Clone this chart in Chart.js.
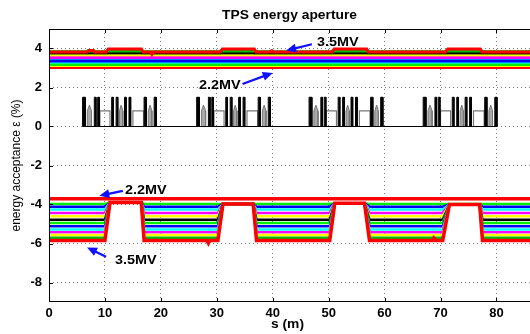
<!DOCTYPE html>
<html><head><meta charset="utf-8">
<script src="https://cdn.jsdelivr.net/npm/chart.js@4.4.0/dist/chart.umd.min.js"></script>
<style>html,body{margin:0;padding:0;background:#fff;overflow:hidden}#wrap{width:530px;height:334px;position:relative}</style>
</head><body><div id="wrap"><canvas id="c"></canvas></div>
<script>
// ---------- data ----------
const chartTitle = 'TPS energy aperture';
const xTitle = 's (m)';
const yTitle = 'energy acceptance \u03b5 (%)';
const xTicks = [0, 10, 20, 30, 40, 50, 60, 70, 80];
const yTicks = [-8, -6, -4, -2, 0, 2, 4];
const sRange = [0, 86];
const eRange = [-9, 5];

const voltages = ['2.2MV','2.3MV','2.4MV','2.5MV','2.6MV','2.7MV','2.8MV','2.9MV','3.0MV','3.1MV','3.2MV','3.3MV','3.4MV','3.5MV'];
const curveColors = ['#ff0000','#00ee00','#0000ff','#00ffff','#ff00ff','#ffff00','#000000','#00ee00','#0000ff','#00ffff','#ff00ff','#ffff00','#00bb00','#ff0000'];
// flat positive / negative acceptance of each curve (%)
const posAperture = [3.00, 3.16, 3.34, 3.28, 3.52, 3.64, 3.74, 3.20, 3.38, 3.46, 3.56, 3.10, 3.78, 3.82];
const negAperture = [-3.71, -3.97, -4.11, -4.26, -4.43, -4.60, -4.78, -4.95, -5.12, -5.28, -5.42, -5.56, -5.70, -5.84];

// regions where the acceptance changes: [rise start, rise end, fall start, fall end] (m)
const posRegions = [[6.8, 7.1, 7.9, 8.2], [10.2, 10.6, 16.5, 16.8], [30.6, 31.0, 36.7, 37.0], [50.6, 51.0, 56.8, 57.1], [70.9, 71.3, 77.1, 77.4]];
const posLevel35 = [3.90, 3.98, 3.98, 3.98, 3.98];   // 3.5MV curve inside regions
const posLevel34 = [3.84, 3.87, 3.87, 3.87, 3.87];   // 3.4MV curve inside regions
const negRegions = [[10.0, 10.9, 16.5, 17.0], [30.2, 31.1, 36.5, 37.1], [50.2, 51.1, 56.4, 57.3], [70.4, 71.6, 77.0, 77.5]];
const negLevel = [-3.90, -3.98, -3.93, -4.00];
// small spikes on the 3.5MV curves: [s, value]
const posSpikes35 = [[18.4, 3.70], [39.8, 3.88]];
const negSpikes35 = [[28.5, -5.98], [68.8, -5.72]];

// lattice (magnet layout), per cell, relative to the cell start (m)
const cellStarts = [6.0, 26.4, 46.5, 66.9];
const latticeExtent = [6.0, 80.1];
const quadRanges = [[0, 0.5], [2.1, 2.4], [2.7, 3.0], [5.2, 5.5], [6.0, 6.3], [7.5, 7.8], [8.3, 8.6], [11.0, 11.4], [12.8, 13.2]];
const quadHeight = 1.5;
const sextRanges = [[0.85, 1.6], [6.6, 7.2], [11.75, 12.4]];
const sextHeight = [0.8, 1.1];
const dipoleRanges = [[3.1, 4.9], [9.0, 10.9]];
const dipoleHeight = 0.8;

// annotations (data coordinates)
const notes = [
  { text: '3.5MV', at: [47.9, 4.3], from: [47.0, 4.22], to: [42.4, 3.9] },
  { text: '2.2MV', at: [26.8, 2.07], from: [34.6, 2.18], to: [40.0, 2.75] },
  { text: '2.2MV', at: [13.6, -3.27], from: [13.2, -3.3], to: [9.0, -3.55] },
  { text: '3.5MV', at: [11.8, -6.9], from: [10.2, -6.68], to: [6.8, -6.2] }
];

// ---------- build datasets ----------
function buildCurve(flat, regions, levels, spikes) {
  const ev = [];
  regions.forEach((r, k) => {
    if (!levels || levels[k] == null) return;
    const L = levels[k];
    ev.push({ x: r[0], y: flat }, { x: r[1], y: L }, { x: r[2], y: L }, { x: r[3], y: flat });
  });
  (spikes || []).forEach(sp => ev.push({ x: sp[0] - 0.25, y: flat }, { x: sp[0], y: sp[1] }, { x: sp[0] + 0.25, y: flat }));
  ev.sort((a, b) => a.x - b.x);
  return [{ x: sRange[0], y: flat }].concat(ev, [{ x: sRange[1], y: flat }]);
}

const datasets = [];
const last = voltages.length - 1;
voltages.forEach((v, i) => {
  const isEdge = (i === 0 || i === last);
  let pLevels = null, pSpikes = null;
  if (i === last) { pLevels = posLevel35; pSpikes = posSpikes35; }
  if (i === last - 1) { pLevels = posLevel34; }
  datasets.push({
    label: v + ' +', data: buildCurve(posAperture[i], posRegions, pLevels, pSpikes),
    borderColor: curveColors[i], borderWidth: i === last ? 3 : (i === last - 1 ? 5 : 2.2),
    pointRadius: 0, fill: false, tension: 0, order: isEdge ? 1 : 10 + i
  });
  const nLevels = i === 0 ? null : negLevel.map(L => Math.max(L, negAperture[i]));
  datasets.push({
    label: v + ' -', data: buildCurve(negAperture[i], negRegions, nLevels, i === last ? negSpikes35 : null),
    borderColor: curveColors[i], borderWidth: isEdge ? 3.5 : 2.5,
    pointRadius: 0, fill: false, tension: 0, order: isEdge ? 1 : 30 - i
  });
});

// lattice
function rectPts(ranges, h) {
  const pts = [];
  cellStarts.forEach(c => ranges.forEach(r => {
    pts.push({ x: c + r[0], y: 0 }, { x: c + r[0], y: h }, { x: c + r[1], y: h }, { x: c + r[1], y: 0 }, { x: NaN, y: null });
  }));
  return pts;
}
function sextPts() {
  const pts = [];
  cellStarts.forEach(c => sextRanges.forEach(r => {
    pts.push({ x: c + r[0], y: 0 }, { x: c + r[0], y: sextHeight[0] }, { x: c + (r[0] + r[1]) / 2, y: sextHeight[1] },
             { x: c + r[1], y: sextHeight[0] }, { x: c + r[1], y: 0 }, { x: NaN, y: null });
  }));
  return pts;
}
datasets.push({ label: 'baseline', data: [{ x: latticeExtent[0], y: 0 }, { x: latticeExtent[1], y: 0 }],
  borderColor: '#000', borderWidth: 1.2, pointRadius: 0, fill: false, order: 2 });
datasets.push({ label: 'dipoles', data: rectPts(dipoleRanges, dipoleHeight), borderColor: '#777', borderWidth: 1.2,
  pointRadius: 0, fill: false, spanGaps: false, order: 4 });
datasets.push({ label: 'sextupoles', data: sextPts(), borderColor: '#777', backgroundColor: '#a8a8a8', borderWidth: 1,
  pointRadius: 0, fill: 'origin', spanGaps: false, order: 3 });
datasets.push({ label: 'quadrupoles', data: rectPts(quadRanges, quadHeight), borderColor: '#000', backgroundColor: '#000', borderWidth: 1,
  pointRadius: 0, fill: 'origin', spanGaps: false, order: 2 });

// ---------- decorations plugin ----------
const FONT = '"Liberation Sans", Arial, sans-serif';
function stretchedText(ctx, txt, x, y, font, align, sx) {
  ctx.save();
  ctx.font = font; ctx.textBaseline = 'middle'; ctx.fillStyle = '#000';
  const w = ctx.measureText(txt).width * sx;
  let x0 = align === 'center' ? x - w / 2 : x;
  ctx.translate(x0, y); ctx.scale(sx, 1); ctx.textAlign = 'left';
  ctx.fillText(txt, 0, 0);
  ctx.restore();
}
function arrow(ctx, x1, y1, x2, y2) {
  const ang = Math.atan2(y2 - y1, x2 - x1), hl = 10, hw = 4.5;
  ctx.save();
  ctx.strokeStyle = '#1010ff'; ctx.fillStyle = '#1010ff'; ctx.lineWidth = 2.2;
  ctx.beginPath(); ctx.moveTo(x1, y1);
  ctx.lineTo(x2 - Math.cos(ang) * hl * 0.8, y2 - Math.sin(ang) * hl * 0.8); ctx.stroke();
  ctx.beginPath(); ctx.moveTo(x2, y2);
  ctx.lineTo(x2 - Math.cos(ang) * hl - Math.sin(ang) * hw, y2 - Math.sin(ang) * hl + Math.cos(ang) * hw);
  ctx.lineTo(x2 - Math.cos(ang) * hl + Math.sin(ang) * hw, y2 - Math.sin(ang) * hl - Math.cos(ang) * hw);
  ctx.closePath(); ctx.fill();
  ctx.restore();
}
const deco = {
  id: 'deco',
  afterDraw(chart) {
    const { ctx, chartArea: a, scales: { x, y } } = chart;
    ctx.save();
    ctx.strokeStyle = '#000'; ctx.lineWidth = 1;
    ctx.beginPath();
    ctx.moveTo(a.right, a.top + 0.5); ctx.lineTo(a.left + 0.5, a.top + 0.5);
    ctx.lineTo(a.left + 0.5, a.bottom - 0.5); ctx.lineTo(a.right, a.bottom - 0.5);
    xTicks.forEach(v => { const p = Math.round(x.getPixelForValue(v)) + 0.5;
      ctx.moveTo(p, a.bottom); ctx.lineTo(p, a.bottom - 4); ctx.moveTo(p, a.top); ctx.lineTo(p, a.top + 4); });
    yTicks.forEach(v => { const p = Math.round(y.getPixelForValue(v)) + 0.5;
      ctx.moveTo(a.left, p); ctx.lineTo(a.left + 4, p); });
    ctx.stroke();
    ctx.restore();
    // titles
    stretchedText(ctx, chartTitle, (a.left + a.right) / 2, 16, 'bold 12px ' + FONT, 'center', 1.15);
    stretchedText(ctx, xTitle, (a.left + a.right) / 2 - 2, 325, 'bold 12px ' + FONT, 'center', 1.15);
    ctx.save();
    ctx.translate(17, (a.top + a.bottom) / 2); ctx.rotate(-Math.PI / 2);
    ctx.font = '12px ' + FONT; ctx.fillStyle = '#000'; ctx.textAlign = 'center'; ctx.textBaseline = 'middle';
    ctx.fillText(yTitle, 0, 0);
    ctx.restore();
    // annotations
    notes.forEach(n => {
      stretchedText(ctx, n.text, x.getPixelForValue(n.at[0]), y.getPixelForValue(n.at[1]), 'bold 12px ' + FONT, 'left', 1.2);
      arrow(ctx, x.getPixelForValue(n.from[0]), y.getPixelForValue(n.from[1]), x.getPixelForValue(n.to[0]), y.getPixelForValue(n.to[1]));
    });
  }
};

const tickFont = { family: FONT, size: 13, weight: 'bold' };
new Chart(document.getElementById('c'), {
  type: 'line',
  data: { datasets },
  options: {
    responsive: true, maintainAspectRatio: false, animation: false,
    layout: { padding: { top: 29, left: 0, right: 0, bottom: 0 } },
    plugins: { legend: { display: false }, tooltip: { enabled: false }, title: { display: false } },
    elements: { line: { borderCapStyle: 'butt', borderJoinStyle: 'miter' } },
    scales: {
      x: {
        type: 'linear', min: sRange[0], max: sRange[1],
        afterBuildTicks: s => { s.ticks = xTicks.map(v => ({ value: v })); },
        afterFit: s => { s.height = 32; },
        grid: { color: '#7a7a7a', lineWidth: 1, drawTicks: false },
        border: { display: false, dash: [1, 3] },
        ticks: { color: '#000', font: tickFont, padding: 4, maxRotation: 0, autoSkip: false }
      },
      y: {
        type: 'linear', min: eRange[0], max: eRange[1],
        afterBuildTicks: s => { s.ticks = yTicks.map(v => ({ value: v })); },
        afterFit: s => { s.width = 49; },
        grid: { color: '#7a7a7a', lineWidth: 1, drawTicks: false },
        border: { display: false, dash: [1, 3] },
        ticks: { color: '#000', font: tickFont, padding: 7 }
      }
    }
  },
  plugins: [deco]
});
</script></body></html>
